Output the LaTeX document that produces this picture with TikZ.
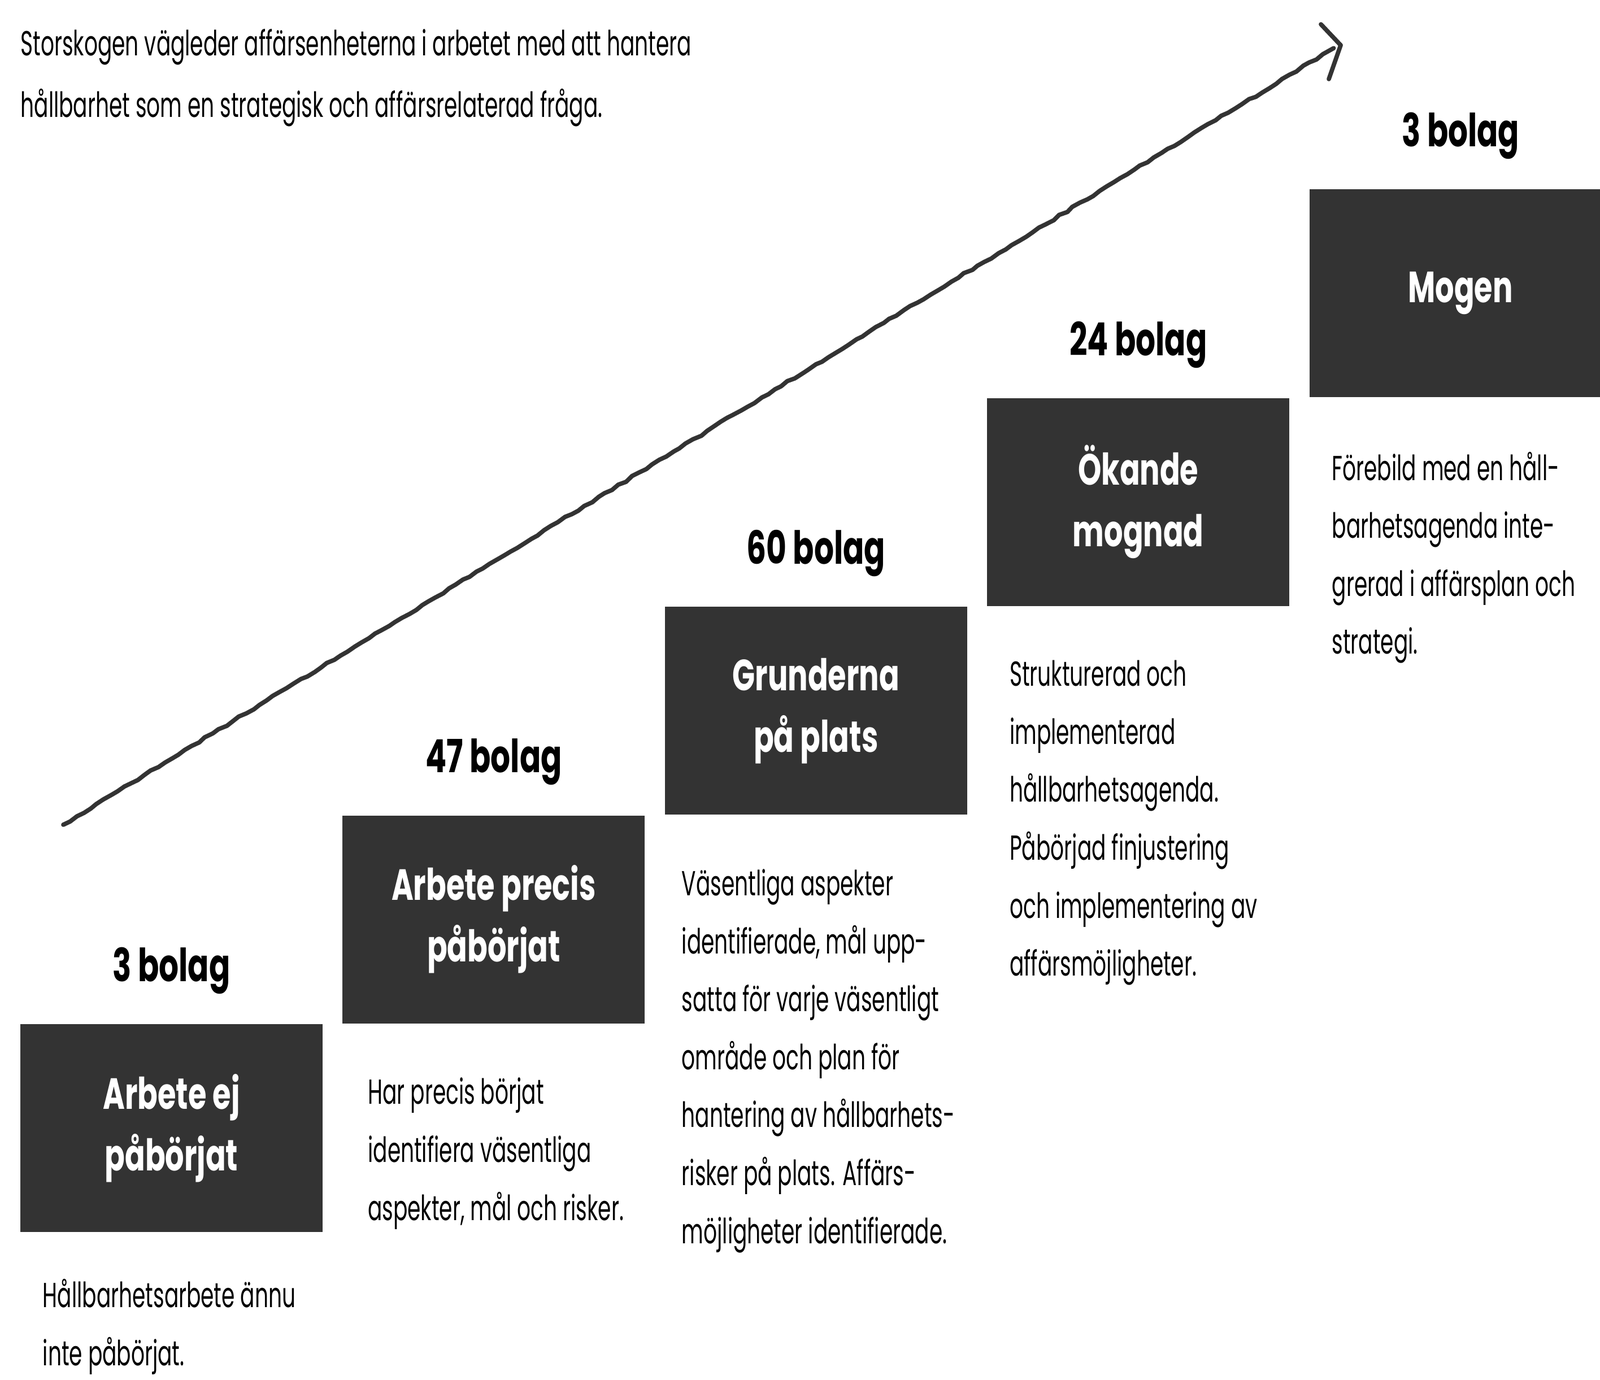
\documentclass[tikz,border=0pt]{standalone}
\usepackage{fontspec}
\setmainfont{Poppins}[FakeStretch=0.61]
\newfontfamily\headfont{Poppins}[FakeStretch=0.68]
\usepackage{tikz}
\usetikzlibrary{calc}
\usetikzlibrary{positioning}
\usetikzlibrary{arrows.meta}
\usetikzlibrary{decorations.pathmorphing}

\begin{document}
\begin{tikzpicture}[
    stage/.style={fill=black!80,minimum width=5.35cm,minimum height=3.68cm,inner sep=0pt,
      align=center,text=white,font=\headfont\bfseries\fontsize{22}{31}\selectfont},
    count/.style={inner sep=0pt,font=\headfont\bfseries\fontsize{23}{28}\selectfont},
    desc/.style={align=left,inner sep=0pt,font=\fontsize{17.5}{29.2}\selectfont},
    trend/.style={line width=2.2pt,black!80,line cap=round,line join=round},
    sketchy/.style={decorate,decoration={random steps,segment length=4pt,amplitude=0.5pt}}
  ]
      \useasboundingbox (0,0) rectangle (28.32,-24.42);
      \clip (0,0) rectangle (28.32,-24.42);

      \node[desc,anchor=north west,font=\fontsize{17.5}{31}\selectfont] (intro) at (0.36,-0.51)
        {Storskogen vägleder affärsenheterna i arbetet med att hantera\\
         hållbarhet som en strategisk och affärsrelaterad fråga.};

      % trappan
      \node[stage] (s1) at (3.035,-19.97) {Arbete ej\\påbörjat};
      \node[stage,above right=0cm and 0.34cm of s1] (s2) {Arbete precis\\påbörjat};
      \node[stage,above right=0cm and 0.34cm of s2] (s3) {Grunderna\\på plats};
      \node[stage,above right=0cm and 0.34cm of s3] (s4) {Ökande\\mognad};
      \node[stage,above right=0cm and 0.34cm of s4] (s5) {Mogen};

      \node[count,above=0.52cm of s1] (n1) {3 bolag};
      \node[count,above=0.52cm of s2] (n2) {47 bolag};
      \node[count,above=0.52cm of s3] (n3) {60 bolag};
      \node[count,above=0.52cm of s4] (n4) {24 bolag};
      \node[count,above=0.52cm of s5] (n5) {3 bolag};

      \node[desc,below right=0.82cm and 0.4cm of s1.south west] (d1)
        {Hållbarhetsarbete ännu\\inte påbörjat.};
      \node[desc,below right=0.95cm and 0.45cm of s2.south west] (d2)
        {Har precis börjat\\identifiera väsentliga\\aspekter, mål och risker.};
      \node[desc,below right=0.95cm and 0.3cm of s3.south west] (d3)
        {Väsentliga aspekter\\identifierade, mål upp-\\satta för varje väsentligt\\område och plan för\\hantering av hållbarhets-\\risker på plats. Affärs-\\möjligheter identifierade.};
      \node[desc,below right=0.95cm and 0.4cm of s4.south west] (d4)
        {Strukturerad och\\implementerad\\hållbarhetsagenda.\\Påbörjad finjustering\\och implementering av\\affärsmöjligheter.};
      \node[desc,below right=0.95cm and 0.4cm of s5.south west] (d5)
        {Förebild med en håll-\\barhetsagenda inte-\\grerad i affärsplan och\\strategi.};

      % pilen
      \coordinate (tail) at (1.12,-14.60);
      \coordinate (tip) at (23.73,-0.80);
      \draw[trend,sketchy] (tail) -- ($(tip)+(-0.12,-0.05)$);
      \draw[trend] (tip) ++(-0.35,0.37) -- (tip) -- ++(-0.21,-0.60);
\end{tikzpicture}
\end{document}
